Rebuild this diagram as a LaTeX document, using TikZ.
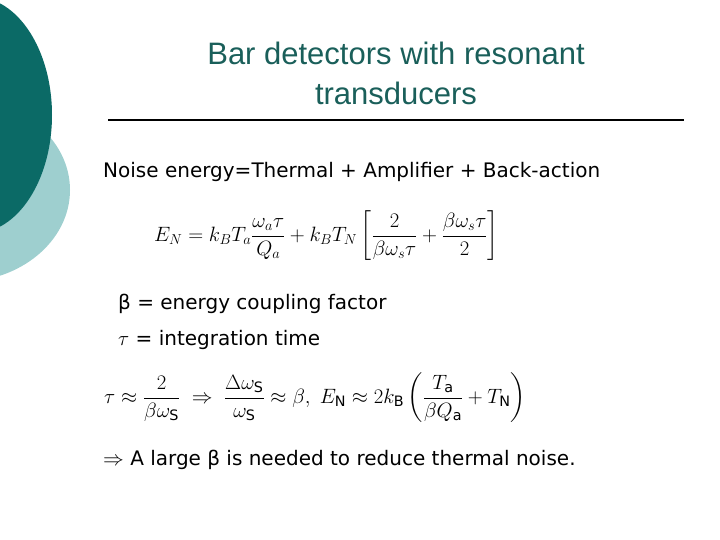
\documentclass[tikz,border=0pt]{standalone}
\usepackage{fontspec}
\setmainfont{DejaVu Sans}
\newfontfamily\titlefont{Liberation Sans}
\usepackage{amsmath}
\begin{document}
\begin{tikzpicture}[x=1pt,y=-1pt,
  body/.style={anchor=west,inner sep=0pt,font=\fontsize{20}{22}\selectfont},
  eq/.style={anchor=west,inner sep=0pt,font=\fontsize{20.5}{24}\selectfont}]
\definecolor{dteal}{HTML}{0B6A66}
\definecolor{lteal}{HTML}{9ECFCF}
\definecolor{tteal}{HTML}{1A5F5A}
\useasboundingbox (0,0) rectangle (720,540);
\fill[lteal] (-40,190) ellipse (110 and 92);
\fill[dteal] (-25,115) ellipse (77 and 118);
\node[inner sep=0pt,align=center,text=tteal,font=\titlefont\fontsize{31}{40}\selectfont] (title) at (396,73) {Bar detectors with resonant\\transducers};
\coordinate (l1) at (108,120); \coordinate (l2) at (684,120);
\draw[line width=1.2pt] (l1) -- (l2);
\node[body] (t1) at (103,172) {Noise energy=Thermal + Amplifier + Back-action};
\node[eq,font=\fontsize{21.5}{24}\selectfont] (e1) at (154,236) {$E_N=k_BT_a\dfrac{\omega_a\tau}{Q_a}+k_BT_N\left[\dfrac{2}{\beta\omega_s\tau}+\dfrac{\beta\omega_s\tau}{2}\right]$};
\node[body] (t2) at (118,304) {β = energy coupling factor};
\node[body] (t3) at (118,340) {$\tau$ = integration time};
\node[eq] (e2) at (104,398) {$\tau\approx\dfrac{2}{\beta\omega_{\mathrm S}}\;\Rightarrow\;\dfrac{\Delta\omega_{\mathrm S}}{\omega_{\mathrm S}}\approx\beta,\;E_{\mathrm N}\approx 2k_{\mathrm B}\left(\dfrac{T_{\mathrm a}}{\beta Q_{\mathrm a}}+T_{\mathrm N}\right)$};
\node[body] (t4) at (103,460) {$\Rightarrow$ A large β is needed to reduce thermal noise.};
\end{tikzpicture}
\end{document}
